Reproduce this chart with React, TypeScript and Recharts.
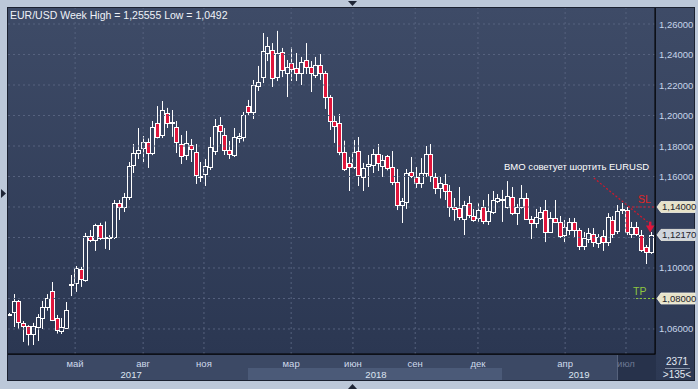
import { ComposedChart, Bar, XAxis, YAxis, ReferenceLine, ReferenceDot } from "recharts";

// weekly EUR/USD candles, oldest first
const OPEN = [
  1.0695, 1.0711, 1.0784, 1.064, 1.062, 1.0567, 1.0614, 1.0672, 1.0744, 1.0849,
  1.0672, 1.0587, 1.0607, 1.0889, 1.0902, 1.0993, 1.092, 1.121, 1.1184, 1.1283,
  1.1197, 1.1197, 1.1203, 1.1426, 1.14, 1.1466, 1.1675, 1.1754, 1.1787, 1.1826,
  1.1754, 1.1951, 1.1872, 1.2016, 1.1951, 1.1925, 1.1813, 1.1741, 1.1806, 1.1761,
  1.16, 1.1617, 1.1662, 1.1767, 1.1938, 1.1872, 1.1774, 1.1741, 1.1852, 1.1859,
  1.2062, 1.2023, 1.2193, 1.2252, 1.241, 1.243, 1.2252, 1.2416, 1.2279, 1.2344,
  1.2311, 1.2279, 1.2364, 1.2318, 1.2266, 1.2331, 1.2279, 1.2121, 1.1964, 1.1951,
  1.1761, 1.1689, 1.1662, 1.1767, 1.1597, 1.1669, 1.1675, 1.1748, 1.1669, 1.1734,
  1.1662, 1.1564, 1.1413, 1.1433, 1.163, 1.1597, 1.1557, 1.1623, 1.1748, 1.1597,
  1.1525, 1.155, 1.1505, 1.14, 1.1393, 1.1321, 1.1426, 1.1341, 1.1328, 1.14,
  1.1308, 1.1367, 1.144, 1.1446, 1.14, 1.1466, 1.1361, 1.14, 1.1459, 1.1321,
  1.1295, 1.1328, 1.138, 1.1236, 1.1328, 1.1302, 1.1216, 1.1249, 1.1302, 1.1249,
  1.1144, 1.119, 1.1223, 1.1164, 1.121, 1.117, 1.1315, 1.1243, 1.138, 1.138,
  1.1223, 1.1269, 1.1216, 1.1138, 1.1105,
];
const HIGH = [
  1.0705, 1.0829, 1.079, 1.0652, 1.0625, 1.064, 1.0698, 1.0784, 1.0829, 1.0908,
  1.0692, 1.0672, 1.0777, 1.0954, 1.1013, 1.1007, 1.123, 1.1249, 1.129, 1.1296,
  1.1305, 1.1215, 1.1446, 1.1446, 1.1492, 1.1695, 1.1813, 1.1918, 1.1865, 1.185,
  1.1964, 1.2062, 1.2095, 1.205, 1.2036, 1.1964, 1.1872, 1.1899, 1.1846, 1.1813,
  1.1695, 1.1715, 1.1859, 1.1977, 1.199, 1.1918, 1.1833, 1.1918, 1.1885, 1.2023,
  1.2102, 1.2233, 1.2325, 1.2541, 1.2515, 1.2475, 1.2555, 1.2443, 1.2364, 1.2449,
  1.241, 1.2384, 1.2475, 1.2357, 1.2384, 1.2403, 1.2292, 1.2134, 1.2003, 1.201,
  1.1835, 1.1728, 1.1839, 1.1859, 1.1689, 1.1741, 1.178, 1.1813, 1.1741, 1.1741,
  1.1767, 1.1649, 1.1459, 1.1649, 1.1728, 1.1662, 1.1721, 1.18, 1.1813, 1.1623,
  1.1597, 1.1616, 1.1544, 1.1459, 1.1531, 1.144, 1.1472, 1.1387, 1.1426, 1.1446,
  1.1485, 1.1505, 1.1485, 1.1512, 1.157, 1.1531, 1.142, 1.1544, 1.1492, 1.1341,
  1.1387, 1.14, 1.1446, 1.1367, 1.1446, 1.1341, 1.1315, 1.1328, 1.1328, 1.1262,
  1.1236, 1.1262, 1.1262, 1.1223, 1.1249, 1.136, 1.1341, 1.1413, 1.1426, 1.14,
  1.1302, 1.1302, 1.1249, 1.1151, 1.1236,
];
const LOW = [
  1.0688, 1.0613, 1.06, 1.0515, 1.0492, 1.0495, 1.0521, 1.06, 1.072, 1.0652,
  1.057, 1.0567, 1.06, 1.0816, 1.0843, 1.0876, 1.091, 1.117, 1.1112, 1.1184,
  1.1125, 1.1118, 1.119, 1.1315, 1.1367, 1.1446, 1.1623, 1.1715, 1.1695, 1.1656,
  1.174, 1.185, 1.1852, 1.1918, 1.186, 1.1754, 1.1682, 1.1708, 1.1695, 1.1551,
  1.1564, 1.1538, 1.1643, 1.1741, 1.1813, 1.1741, 1.1715, 1.1728, 1.182, 1.183,
  1.1997, 1.1977, 1.2161, 1.2213, 1.2357, 1.2187, 1.2226, 1.2252, 1.2121, 1.2226,
  1.2226, 1.22, 1.2272, 1.2154, 1.2246, 1.2233, 1.2043, 1.1905, 1.182, 1.174,
  1.1636, 1.1505, 1.1649, 1.1538, 1.1505, 1.1531, 1.1623, 1.1636, 1.1597, 1.164,
  1.1544, 1.138, 1.1295, 1.1387, 1.159, 1.1525, 1.1525, 1.1597, 1.1564, 1.1485,
  1.1456, 1.1446, 1.1335, 1.131, 1.1315, 1.1216, 1.1328, 1.1303, 1.1303, 1.1288,
  1.1282, 1.1354, 1.1426, 1.1302, 1.139, 1.1347, 1.1282, 1.139, 1.1315, 1.119,
  1.1262, 1.1315, 1.117, 1.123, 1.1295, 1.1197, 1.117, 1.1216, 1.1197, 1.1118,
  1.1118, 1.1164, 1.1138, 1.1131, 1.1112, 1.1144, 1.1197, 1.1223, 1.1354, 1.1216,
  1.1197, 1.121, 1.1105, 1.1026, 1.1092,
];
const CLOSE = [
  1.07, 1.0784, 1.0646, 1.0622, 1.0567, 1.062, 1.0679, 1.0744, 1.0803, 1.0659,
  1.0593, 1.0613, 1.0725, 1.0897, 1.1, 1.0928, 1.121, 1.1184, 1.128, 1.1197,
  1.1203, 1.1203, 1.1426, 1.14, 1.1466, 1.1669, 1.1754, 1.1774, 1.1826, 1.1754,
  1.1925, 1.186, 1.2036, 1.1951, 1.1957, 1.1826, 1.1734, 1.1819, 1.178, 1.161,
  1.1604, 1.1669, 1.1793, 1.1931, 1.1899, 1.1774, 1.1748, 1.1859, 1.1866, 1.2003,
  1.2023, 1.22, 1.222, 1.2423, 1.2456, 1.2246, 1.241, 1.2298, 1.2318, 1.2305,
  1.2279, 1.2351, 1.2318, 1.2279, 1.2331, 1.2279, 1.2121, 1.1964, 1.1931, 1.1761,
  1.1649, 1.1662, 1.1761, 1.161, 1.1656, 1.1682, 1.1748, 1.1689, 1.1708, 1.1656,
  1.1564, 1.1413, 1.144, 1.1623, 1.1603, 1.1557, 1.1623, 1.1748, 1.1603, 1.1525,
  1.1557, 1.1505, 1.14, 1.1387, 1.1335, 1.1413, 1.1348, 1.1315, 1.138, 1.1308,
  1.1374, 1.1446, 1.1459, 1.1452, 1.1472, 1.1361, 1.14, 1.1459, 1.1321, 1.1295,
  1.1334, 1.1367, 1.1236, 1.1328, 1.1302, 1.121, 1.1269, 1.1302, 1.1249, 1.1144,
  1.1197, 1.123, 1.117, 1.1203, 1.117, 1.1334, 1.1223, 1.1374, 1.1387, 1.1236,
  1.1269, 1.1223, 1.1118, 1.1105, 1.1217,
];

// time axis: bar index of each month / year label
const MONTH_POS = [13.8, 28.0, 40.7, 58.9, 71.8, 84.8, 97.9, 116.1, 128.8];
const MONTH_LABELS = ["май", "авг", "ноя", "мар", "июн", "сен", "дек", "апр", "июл"];
const YEAR_POS = [25.5, 76.6, 119];
const YEAR_LABELS = ["2017", "2018", "2019"];

const GRID_LEVELS = [1.06, 1.08, 1.1, 1.12, 1.14, 1.16, 1.18, 1.2, 1.22, 1.24, 1.26];
const PRICE_TICKS = [1.06, 1.08, 1.1, 1.1217, 1.14, 1.16, 1.18, 1.2, 1.22, 1.24, 1.26];
const TAG_LEVELS = [1.14, 1.1217, 1.08];

// trade idea
const SL_LEVEL = 1.14;
const TP_LEVEL = 1.08;
const SIGNAL_FROM = { x: 122.1, y: 1.159 };
const SIGNAL_TO = { x: 133.3, y: 1.1302 };
const ARROW_AT = { x: 133.8, y: 1.1232 };

const data = OPEN.map((o, i) => ({
  i,
  open: o,
  high: HIGH[i],
  low: LOW[i],
  close: CLOSE[i],
  range: [LOW[i], HIGH[i]],
}));

const FONT = "'Liberation Sans', Arial, sans-serif";
const GRID = "#56627e";
const RED = "#e0163c";

const Candle = (props: any) => {
  const { x, y, width, height, payload } = props;
  const { open, close, high, low } = payload;
  const cx = Math.round(x + width / 2) + 0.5;
  const span = high - low || 1e-6;
  const py = (v: number) => y + ((high - v) / span) * height;
  const up = close >= open;
  const top = Math.round(py(Math.max(open, close))) + 0.5;
  const bot = Math.max(Math.round(py(Math.min(open, close))) + 0.5, top + 1);
  return (
    <g>
      <line x1={cx} x2={cx} y1={y} y2={top} stroke="#fff" />
      <line x1={cx} x2={cx} y1={bot} y2={y + height} stroke="#fff" />
      <rect x={cx - 2} y={top} width={4} height={bot - top} fill={up ? "none" : RED} stroke="#fff" />
    </g>
  );
};

const TimeTick = (props: any) => {
  const { x, y, payload } = props;
  const m = MONTH_POS.indexOf(payload.value);
  if (m >= 0) {
    return (
      <text x={x} y={y + 13} textAnchor="middle" fontSize={9.5} fontFamily={FONT}
        fill={m === MONTH_POS.length - 1 ? "#6c7893" : "#cfdaec"}>
        {MONTH_LABELS[m]}
      </text>
    );
  }
  const k = YEAR_POS.indexOf(payload.value);
  return (
    <text x={x} y={y + 24} textAnchor="middle" fontSize={9.5} fontFamily={FONT} fill="#dde5f2">
      {YEAR_LABELS[k]}
    </text>
  );
};

const PriceTick = (props: any) => {
  const { x, y, payload } = props;
  const v = payload.value as number;
  const label = v.toFixed(5).replace(".", ",");
  const t = TAG_LEVELS.findIndex((l) => Math.abs(l - v) < 1e-6);
  if (t >= 0) {
    const fill = t === 1 ? "#cfd5de" : "#e7e3c9";
    return (
      <g>
        <polygon
          points={`${x + 2},${y} ${x + 6},${y - 5.5} ${x + 40},${y - 5.5} ${x + 40},${y + 5.5} ${x + 6},${y + 5.5}`}
          fill={fill} stroke="#f4f2e6" strokeWidth={0.8} />
        <text x={x + 7} y={y + 3.5} fontSize={9.5} fontFamily={FONT} fill="#1c222c">{label}</text>
      </g>
    );
  }
  return (
    <text x={x + 4} y={y + 3.5} fontSize={9.5} fontFamily={FONT} fill="#c6d4ea">{label}</text>
  );
};

const Arrow = (props: any) => {
  const { cx, cy } = props;
  return (
    <g fill={RED}>
      <rect x={cx - 1} y={cy - 11} width={2.5} height={6} />
      <polygon points={`${cx - 4},${cy - 7} ${cx + 4.5},${cy - 7} ${cx + 0.25},${cy}`} />
    </g>
  );
};

const abs = (left: number, top: number, extra: any = {}) => ({ position: "absolute" as const, left, top, ...extra });

export default function App() {
  const ticksX = [...MONTH_POS, ...YEAR_POS];
  return (
    <div style={abs(0, 0, { width: 698, height: 389, background: "#bcc8d9", overflow: "hidden", fontFamily: FONT })}>
      <div style={abs(7, 7, { width: 688, height: 374, background: "#1b2130" })} />
      <div style={abs(8, 8, { width: 647, height: 346, background: "linear-gradient(#3e4b67, #2b3752)" })} />
      <div style={abs(656, 8, { width: 38, height: 372, background: "linear-gradient(#3e4b67, #2d3954)" })} />
      <div style={abs(8, 355, { width: 647, height: 25, background: "#3c4965" })} />
      <div style={abs(248, 368, { width: 254, height: 12, background: "#4b5a78" })} />
      <div style={abs(617, 355, { width: 38, height: 25, background: "#27324b", borderLeft: "1px solid #56627c" })} />

      <div style={abs(0, 0)}>
        <ComposedChart width={698} height={389} data={data} margin={{ top: 8, right: 4, bottom: 9, left: 8 }}>
          <XAxis dataKey="i" type="number" domain={[-0.21, 134.86]} allowDataOverflow ticks={ticksX}
            interval={0} tick={<TimeTick />} tickLine={false} tickSize={0} tickMargin={0}
            axisLine={{ stroke: "#000" }} height={26} />
          <YAxis orientation="right" type="number" domain={[1.0436, 1.2705]} allowDataOverflow
            ticks={PRICE_TICKS} interval={0} tick={<PriceTick />} tickLine={false}
            tickSize={0} tickMargin={0} axisLine={{ stroke: "#000" }} width={39} />
          {GRID_LEVELS.map((v) => (
            <ReferenceLine key={`h${v}`} y={v} stroke={GRID} strokeDasharray="2 3" />
          ))}
          {MONTH_POS.map((v) => (
            <ReferenceLine key={`v${v}`} x={v} stroke={GRID} strokeDasharray="2 3" />
          ))}
          <Bar dataKey="range" barSize={5} shape={<Candle />} isAnimationActive={false} />
          <ReferenceLine segment={[SIGNAL_FROM, SIGNAL_TO]} stroke="#d3182c" strokeWidth={1.2} strokeDasharray="2 2" />
          <ReferenceLine segment={[{ x: 129.2, y: SL_LEVEL }, { x: 134.86, y: SL_LEVEL }]} stroke="#d3182c" strokeWidth={1.2} strokeDasharray="2 2" />
          <ReferenceLine segment={[{ x: 130.9, y: TP_LEVEL }, { x: 134.86, y: TP_LEVEL }]} stroke="#8ec63f" strokeDasharray="2 2" />
          <ReferenceDot x={ARROW_AT.x} y={ARROW_AT.y} shape={<Arrow />} />
        </ComposedChart>
      </div>

      <div style={abs(10, 9, { color: "#eef2f8", fontSize: 10.5, whiteSpace: "nowrap" })}>
        EUR/USD Week High = 1,25555 Low = 1,0492
      </div>
      <div style={abs(504, 161, { color: "#ffffff", fontSize: 9.5, whiteSpace: "nowrap" })}>
        BMO советует шортить EURUSD
      </div>
      <div style={abs(638, 193, { color: "#e02626", fontSize: 10.5 })}>SL</div>
      <div style={abs(633, 285, { color: "#8ec63f", fontSize: 10.5 })}>TP</div>

      <svg width={698} height={389} style={abs(0, 0, { pointerEvents: "none" })}>
        <text x={677} y={365} textAnchor="middle" fontSize={10} fontFamily={FONT} fill="#e3e9f2">2371</text>
        <line x1={665} x2={690} y1={368.5} y2={368.5} stroke="#8793a8" />
        <text x={677} y={378} textAnchor="middle" fontSize={10} fontFamily={FONT} fill="#e3e9f2">{">135<"}</text>
        <polygon points="348,1 357,1 352.5,6" fill="#1f2636" />
        <polygon points="348,389 357,389 352.5,384" fill="#1f2636" />
        <polygon points="1,189 1,198 6,193.5" fill="#1f2636" />
      </svg>
    </div>
  );
}
